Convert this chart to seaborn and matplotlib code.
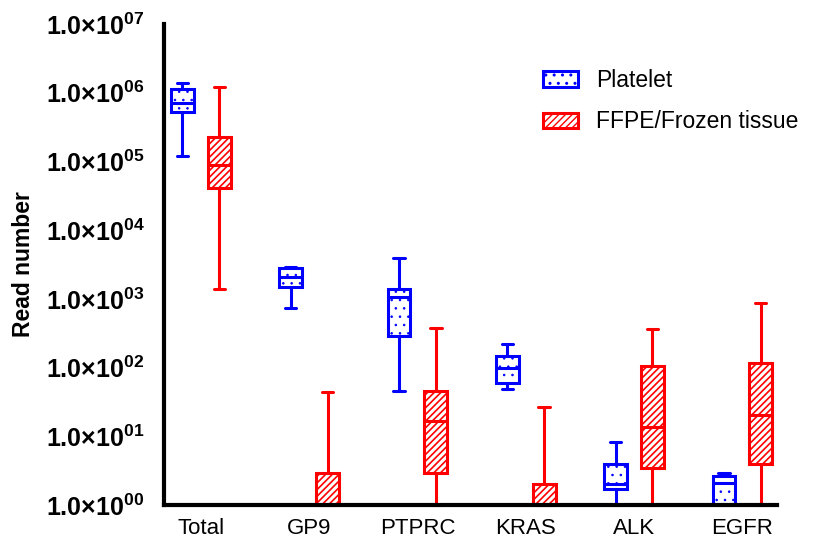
import math
import pandas as pd
import matplotlib
matplotlib.use("Agg")
import matplotlib.pyplot as plt
from matplotlib.patches import Patch
from matplotlib.ticker import FixedLocator, FuncFormatter, NullLocator
import seaborn as sns

# five-number summaries: min, q1, median, q3, max
GENES = ["Total", "GP9", "PTPRC", "KRAS", "ALK", "EGFR"]
GROUPS = ["Platelet", "FFPE/Frozen tissue"]

platelet = {
    "Total": [1.2e5, 5.2e5, 7.1e5, 1.13e6, 1.38e6],
    "GP9":   [740, 1500, 2100, 2800, 2900],
    "PTPRC": [46, 290, 1070, 1400, 3900],
    "KRAS":  [49, 59, 98, 148, 220],
    "ALK":   [1.0, 1.7, 2.0, 4.0, 8.3],
    "EGFR":  [1.0, 1.0, 2.1, 2.6, 2.9],
}
tissue = {
    "Total": [1400, 4.1e4, 8.9e4, 2.3e5, 1.2e6],
    "GP9":   [1.0, 1.0, 1.0, 2.9, 44],
    "PTPRC": [1.0, 2.9, 16.6, 46, 380],
    "KRAS":  [1.0, 1.0, 1.0, 2.0, 27],
    "ALK":   [1.0, 3.4, 13.6, 105, 360],
    "EGFR":  [1.0, 4.0, 20.5, 117, 870],
}

COLORS = ["#0000ff", "#ff0000"]
HATCHES = ["..", "/////"]
HATCH_LW = [0.6, 1.2]
LW = 2.2

rows = []
for group, vals in zip(GROUPS, [platelet, tissue]):
    for gene in GENES:
        for v in vals[gene]:
            rows.append({"gene": gene, "group": group, "reads": v})
df = pd.DataFrame(rows)

sns.set_style("white")
plt.rcParams["font.family"] = ["Liberation Sans", "DejaVu Sans"]
plt.rcParams["mathtext.fontset"] = "custom"
plt.rcParams["mathtext.rm"] = "Liberation Sans"
plt.rcParams["mathtext.bf"] = "Liberation Sans:bold"
plt.rcParams["hatch.linewidth"] = 1.0
plt.rcParams["text.color"] = "black"
plt.rcParams["axes.labelcolor"] = "black"
plt.rcParams["xtick.color"] = "black"
plt.rcParams["ytick.color"] = "black"


def style_patch(p, color, hatch, hlw):
    p.set_facecolor("white")
    p.set_edgecolor(color)
    p.set_hatch(hatch)
    p.set_linewidth(LW)
    if hasattr(p, "set_hatch_linewidth"):
        p.set_hatch_linewidth(hlw)


fig = plt.figure(figsize=(8.18, 5.39), dpi=100)
ax = fig.add_axes([164 / 818, 1 - 505 / 539, 613 / 818, 481 / 539])

sns.boxplot(data=df, x="gene", y="reads", hue="group", order=GENES,
            hue_order=GROUPS, palette=COLORS, whis=(0, 100), width=0.68,
            gap=0.38, log_scale=True, legend=False, ax=ax)

# recolour: white boxes with coloured edges and hatching
for cont, color, hatch, hlw in zip(ax.containers, COLORS, HATCHES, HATCH_LW):
    for box in cont.boxes:
        style_patch(box, color, hatch, hlw)
    for ln in list(cont.whiskers) + list(cont.caps) + list(cont.medians):
        ln.set_color(color)
        ln.set_linewidth(LW)
        ln.set_clip_on(False)

ax.set_ylim(1, 1e7)
ax.set_xlim(-0.34, 5.32)
ax.yaxis.set_major_locator(FixedLocator([10 ** i for i in range(8)]))
ax.yaxis.set_minor_locator(NullLocator())
ax.yaxis.set_major_formatter(FuncFormatter(
    lambda v, pos: "1.0×10$^{\\mathbf{%02d}}$" % round(math.log10(v))))

for side in ["top", "right"]:
    ax.spines[side].set_visible(False)
for side in ["left", "bottom"]:
    ax.spines[side].set_linewidth(3)
    ax.spines[side].set_color("black")

ax.tick_params(axis="y", which="major", direction="out", length=6, width=2.2,
               color="black", labelcolor="black", pad=8, labelsize=18)
for lbl in ax.get_yticklabels():
    lbl.set_fontweight("bold")
ax.tick_params(axis="x", length=0, pad=9, labelsize=16, labelcolor="black")

ax.set_xlabel("")
ax.set_ylabel("Read number", fontsize=16.5, fontweight="bold", color="black")
ax.yaxis.set_label_coords(-0.21, 0.5)

handles = []
for c, h, hlw, g in zip(COLORS, HATCHES, HATCH_LW, GROUPS):
    p = Patch(label=g)
    style_patch(p, c, h, hlw)
    handles.append(p)
fig.legend(handles=handles, loc="upper left", bbox_to_anchor=(0.664, 0.872),
           frameon=False, fontsize=16.5, handlelength=1.5, handleheight=0.65,
           handletextpad=0.8, labelspacing=0.8, borderpad=0, borderaxespad=0,
           labelcolor="black")

fig.savefig("out.png", dpi=100)
